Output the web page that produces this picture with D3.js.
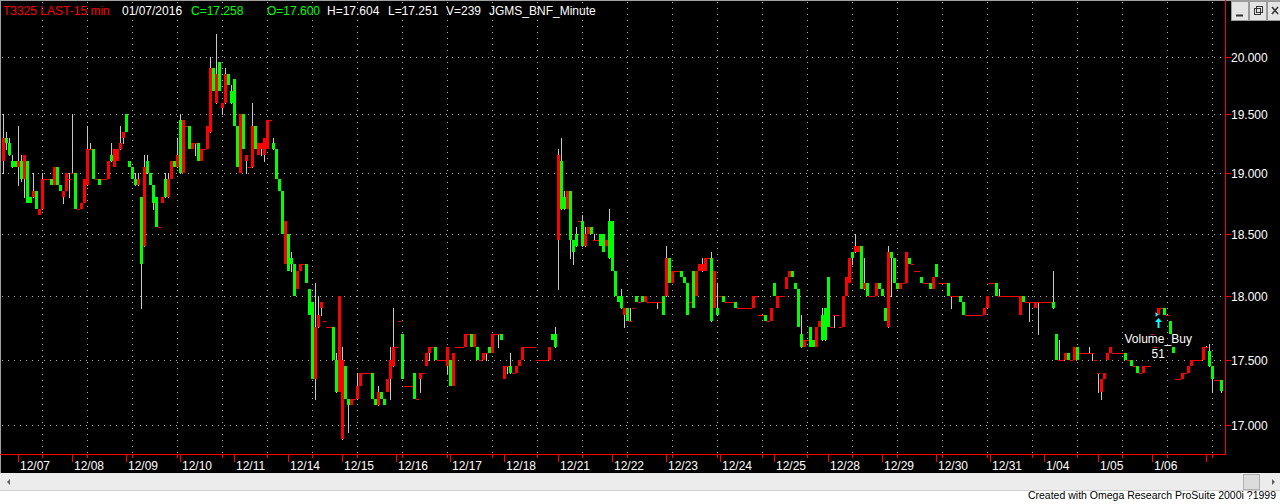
<!DOCTYPE html>
<html><head><meta charset="utf-8">
<script src="https://cdn.jsdelivr.net/npm/d3@7"></script>
<style>html,body{margin:0;padding:0;background:#fff;overflow:hidden}svg{display:block}</style>
</head><body><svg id="c" width="1280" height="504"></svg>
<script>
// ---------------- data ----------------
const opens = [
19.10,19.30,19.25,19.10,19.10,19.05,19.10,18.95,19.10,18.80,
18.80,18.85,18.65,18.70,18.95,18.95,18.95,18.90,19.05,18.90,
18.80,18.85,18.95,19.00,19.00,18.70,18.70,18.75,18.90,19.20,
19.20,18.95,18.95,18.95,18.95,18.95,19.15,19.05,19.10,19.20,
19.30,19.50,19.10,19.05,18.95,18.90,18.80,18.40,19.10,19.00,
18.90,18.80,18.55,18.75,18.95,18.80,18.95,19.10,19.05,19.45,
19.00,19.40,19.40,19.20,19.25,19.25,19.10,19.20,19.20,19.35,
19.90,19.60,19.95,19.55,19.60,19.85,19.70,19.80,19.40,19.00,
19.50,19.10,19.05,19.05,19.40,19.15,19.20,19.15,19.20,19.45,
19.25,19.20,18.95,18.85,18.25,18.50,18.30,18.25,18.05,18.20,
18.25,18.25,18.05,17.95,17.35,17.75,17.90,17.80,17.75,17.75,
17.75,17.50,17.25,16.90,17.45,17.20,17.15,17.20,17.20,17.30,
17.40,17.40,17.40,17.40,17.20,17.15,17.25,17.20,17.25,17.35,
17.45,17.60,17.80,17.70,17.30,17.30,17.30,17.40,17.20,17.35,
17.40,17.45,17.55,17.60,17.60,17.50,17.50,17.50,17.45,17.50,
17.30,17.60,17.60,17.60,17.60,17.70,17.70,17.60,17.60,17.50,
17.50,17.55,17.60,17.55,17.70,17.70,17.70,17.35,17.45,17.45,
17.40,17.40,17.45,17.50,17.60,17.60,17.60,17.60,17.50,17.50,
17.50,17.50,17.50,17.70,17.70,18.45,19.10,18.80,18.70,18.85,
18.45,18.50,18.60,18.60,18.40,18.50,18.55,18.45,18.45,18.50,
18.50,18.40,18.60,18.60,18.20,18.00,18.00,17.85,17.90,17.80,
17.90,18.00,17.95,18.00,17.95,17.95,17.95,17.95,17.95,17.95,
18.00,18.00,18.30,18.10,18.20,18.20,18.20,18.15,18.10,17.95,
18.20,18.00,18.20,18.20,18.20,18.30,18.30,17.90,17.90,18.00,
18.00,17.95,17.95,17.95,17.95,17.90,17.90,17.90,17.90,17.90,
17.90,18.00,17.85,17.85,17.85,17.80,17.80,18.10,17.90,18.00,
18.00,18.05,18.15,18.20,18.10,18.05,17.70,17.60,17.65,17.75,
17.65,17.60,17.75,17.85,17.90,18.15,17.75,17.85,17.85,17.75,
17.75,18.00,18.10,18.35,18.35,18.35,18.40,18.05,18.10,18.00,
18.00,18.00,18.10,18.05,17.90,17.75,18.35,18.30,18.10,18.05,
18.10,18.10,18.30,18.25,18.20,18.20,18.15,18.10,18.10,18.10,
18.05,18.25,18.10,18.10,18.10,18.10,18.00,18.00,18.00,18.00,
17.95,17.85,17.85,17.85,17.85,17.85,17.85,17.85,17.90,18.10,
18.10,18.10,18.00,18.00,18.00,18.00,18.00,18.00,18.00,17.85,
18.00,17.95,17.95,17.95,17.90,17.95,17.95,17.95,17.95,17.95,
17.95,17.70,17.50,17.50,17.50,17.55,17.50,17.50,17.60,17.55,
17.55,17.55,17.55,17.55,17.50,17.40,17.25,17.35,17.50,17.55,
17.55,17.55,17.55,17.55,17.55,17.50,17.50,17.45,17.45,17.40,
17.40,17.45,17.45,17.70,17.60,17.85,17.90,17.90,17.85,17.80,
17.60,17.35,17.35,17.35,17.40,17.40,17.45,17.50,17.50,17.50,
17.50,17.60,17.57,17.45,17.34,17.34,17.34];

const closes = [
19.30,19.25,19.15,19.05,19.05,19.10,18.95,19.15,18.75,18.75,
18.85,18.70,18.70,18.95,18.95,18.95,18.90,19.05,18.90,18.85,
18.85,19.00,18.95,19.00,18.70,18.70,18.75,18.95,19.20,19.20,
18.95,18.95,18.90,18.95,18.95,19.10,19.10,19.20,19.20,19.25,
19.35,19.35,19.05,18.95,18.90,18.95,18.25,19.05,19.00,18.90,
18.75,18.55,18.55,18.80,18.80,18.95,19.10,19.05,19.15,19.00,
19.45,19.40,19.20,19.25,19.25,19.10,19.20,19.20,19.40,19.90,
19.70,19.85,19.70,19.60,19.85,19.75,19.60,19.40,19.05,19.50,
19.20,19.15,19.05,19.40,19.20,19.25,19.25,19.30,19.45,19.45,
19.20,18.95,18.85,18.50,18.60,18.20,18.25,18.00,18.20,18.25,
18.25,18.10,17.85,17.35,17.75,17.85,17.95,17.80,17.75,17.75,
17.50,17.25,18.00,17.50,17.20,17.15,17.20,17.20,17.30,17.40,
17.40,17.40,17.40,17.20,17.15,17.25,17.20,17.15,17.35,17.50,
17.60,17.60,17.80,17.35,17.30,17.30,17.30,17.20,17.20,17.40,
17.40,17.55,17.60,17.60,17.50,17.50,17.50,17.50,17.60,17.30,
17.55,17.60,17.60,17.60,17.70,17.70,17.60,17.70,17.50,17.50,
17.55,17.55,17.55,17.70,17.70,17.70,17.65,17.45,17.45,17.40,
17.40,17.45,17.50,17.60,17.60,17.60,17.60,17.60,17.50,17.50,
17.50,17.50,17.60,17.65,17.60,19.15,18.70,18.70,18.85,18.45,
18.35,18.40,18.60,18.40,18.50,18.55,18.50,18.45,18.45,18.40,
18.35,18.45,18.30,18.20,18.00,17.95,17.90,17.90,17.80,17.80,
17.90,17.95,17.95,17.95,18.00,17.95,17.95,17.95,17.95,17.95,
17.85,18.30,18.10,18.20,18.20,18.20,18.15,18.10,17.85,17.95,
17.90,18.20,18.25,18.25,18.30,18.30,17.80,18.20,17.85,18.00,
17.95,17.95,17.95,17.95,17.90,17.90,17.90,17.90,17.90,17.90,
18.00,18.00,17.85,17.85,17.80,17.80,17.90,18.00,18.00,18.00,
18.00,18.15,18.20,18.15,18.05,17.75,17.60,17.65,17.65,17.60,
17.60,17.75,17.80,17.65,17.65,17.75,17.75,17.85,17.85,17.75,
18.00,18.15,18.30,18.30,18.40,18.40,18.05,18.10,18.00,18.00,
18.00,18.10,18.05,18.00,17.80,18.35,18.30,18.10,18.05,18.10,
18.10,18.35,18.25,18.25,18.20,18.20,18.10,18.10,18.10,18.05,
18.15,18.15,18.10,18.10,18.10,18.00,18.00,18.00,18.00,17.95,
17.85,17.85,17.85,17.85,17.85,17.85,17.85,17.90,18.00,18.10,
18.10,18.00,18.00,18.00,18.00,18.00,18.00,18.00,18.00,18.00,
17.95,17.95,17.95,17.95,17.95,17.95,17.95,17.95,17.95,17.95,
17.90,17.50,17.50,17.50,17.55,17.50,17.50,17.60,17.50,17.55,
17.55,17.55,17.55,17.55,17.50,17.40,17.35,17.40,17.55,17.60,
17.55,17.55,17.55,17.55,17.50,17.50,17.45,17.45,17.40,17.40,
17.45,17.45,17.45,17.70,17.60,17.90,17.90,17.85,17.85,17.70,
17.55,17.35,17.35,17.40,17.40,17.45,17.50,17.50,17.50,17.50,
17.60,17.60,17.45,17.35,17.34,17.34,17.26];

// [bar, high, low] where the range reaches beyond the body
const wicks = [
[0,19.50,19.00],[1,19.35,19.20],[2,19.30,null],[3,19.15,null],[5,19.40,18.90],[6,19.15,18.93],
[7,null,18.80],[10,19.00,null],[13,19.00,null],[20,null,18.75],[22,19.00,18.80],[23,19.50,null],
[28,19.40,null],[29,19.25,null],[36,19.25,null],[39,19.40,null],[40,null,19.25],[44,19.00,null],
[45,19.00,null],[46,null,17.90],[47,19.15,null],[48,19.15,null],[50,null,18.70],[54,19.00,null],
[55,19.00,null],[58,19.30,null],[59,19.50,null],[64,null,19.15],[69,20.00,null],[71,20.20,null],
[73,null,19.50],[74,19.90,null],[76,19.75,null],[81,null,19.00],[83,19.60,null],[86,null,19.15],
[87,null,19.10],[90,19.30,null],[96,18.35,18.20],[104,18.10,17.20],[105,18.00,null],[106,null,17.85],
[111,17.55,null],[113,17.60,null],[115,null,16.95],[118,17.40,null],[125,17.30,null],[129,17.60,17.20],
[130,17.90,null],[139,null,17.25],[142,null,17.50],[148,null,17.40],[161,null,17.50],[165,null,17.60],
[168,null,17.40],[169,17.55,null],[184,17.75,null],[185,19.20,18.05],[186,19.30,null],[187,18.85,null],
[189,null,18.30],[190,null,18.25],[191,18.55,null],[193,18.65,null],[194,18.55,null],[197,18.50,null],
[202,18.70,null],[206,18.05,null],[207,null,17.75],[209,17.90,null],[218,null,17.90],[221,18.40,null],
[233,18.30,null],[236,18.35,null],[238,18.10,null],[266,17.85,null],[273,17.90,null],[274,17.90,null],
[277,null,17.75],[283,null,18.25],[284,18.50,null],[287,18.30,null],[295,18.40,null],[296,null,18.00],
[316,null,17.90],[332,18.05,null],[342,null,17.80],[345,null,17.70],[350,18.20,null],[352,17.65,null],
[362,17.60,null],[363,null,17.50],[365,null,17.25],[366,null,17.20],[401,17.604,null],[402,17.62,null],
[403,null,17.25],[406,null,17.251]];

const dateLabels = ["12/07","12/08","12/09","12/10","12/11","12/14","12/15","12/16","12/17","12/18",
  "12/21","12/22","12/23","12/24","12/25","12/28","12/29","12/30","12/31","1/04","1/05","1/06",""];
const dateBars = [5,23,41,59,77,95,113,131,149,167,185,203,221,239,257,275,293,311,329,347,365,383,401];
const gridBars = [13,28,43,58,73,88,103,118,133,148,163,178,193,208,223,238,253,268,283,298,313,328,343,358,373,388,403];
const priceTicks = [17.0,17.5,18.0,18.5,19.0,19.5,20.0];

const headerTexts = ["T3325 LAST-15 min","01/07/2016","C=17.258","O=17.600","H=17.604","L=17.251","V=239","JGMS_BNF_Minute"];
const headerColors = ["#ff0000","#ffffff","#00ff00","#00ff00","#ffffff","#ffffff","#ffffff","#ffffff"];
const headerX = [3,122,191,267,327,388,446,489];

const signalBar = 385, signalPrice = 17.83, signalName = "Volume_Buy", signalValue = "51";

// ---------------- drawing ----------------
const W = 1280, H = 504;
const plotRight = 1225, axisY = 454;
const svg = d3.select("#c");
const FONT = "Arial, 'Liberation Sans', sans-serif";

const x = d3.scaleLinear().domain([0, 407]).range([2, 2 + 3 * 407]);
const y = d3.scaleLog().domain([17, 20]).range([425.3, 56.7]);
const bw = x(1) - x(0);

svg.append("rect").attr("width", W).attr("height", H).attr("fill", "#ffffff");
svg.append("rect").attr("x", 0).attr("y", 0).attr("width", W).attr("height", 473).attr("fill", "#000000");

// frame lines
svg.append("line").attr("x1", 0).attr("x2", W).attr("y1", 0.5).attr("y2", 0.5).attr("stroke", "#a0a0a0");
svg.append("line").attr("x1", 0.5).attr("x2", 0.5).attr("y1", 0).attr("y2", 473).attr("stroke", "#a0a0a0");

const gridG = svg.append("g");
// horizontal grid
gridG.selectAll("line.h").data(priceTicks).join("line")
  .attr("x1", 2).attr("x2", plotRight)
  .attr("y1", d => Math.round(y(d)) + 0.5).attr("y2", d => Math.round(y(d)) + 0.5)
  .attr("stroke", "#b4b4b4").attr("stroke-dasharray", "1,5");
// vertical grid
gridG.selectAll("line.v").data(gridBars).join("line")
  .attr("x1", d => Math.floor(x(d) + bw / 2) + 0.5).attr("x2", d => Math.floor(x(d) + bw / 2) + 0.5)
  .attr("y1", 2).attr("y2", axisY)
  .attr("stroke", "#b4b4b4").attr("stroke-dasharray", "1,5");

// bars
const bars = d3.range(opens.length).map(i => ({i, o: opens[i], c: closes[i]}));
const wickMap = new Map(wicks.map(w => [w[0], w]));
const barG = svg.append("g");
barG.selectAll("line.w").data(bars.filter(b => wickMap.has(b.i))).join("line")
  .attr("x1", b => Math.floor(x(b.i) + bw / 2) + 0.5).attr("x2", b => Math.floor(x(b.i) + bw / 2) + 0.5)
  .attr("y1", b => { const w = wickMap.get(b.i); return Math.round(y(w[1] != null ? Math.max(w[1], b.o, b.c) : Math.max(b.o, b.c))); })
  .attr("y2", b => { const w = wickMap.get(b.i); return Math.round(y(w[2] != null ? Math.min(w[2], b.o, b.c) : Math.min(b.o, b.c))) + 1; })
  .attr("stroke", "#c8c8c8").attr("stroke-width", 1);
barG.selectAll("rect").data(bars).join("rect")
  .attr("x", b => Math.round(x(b.i))).attr("width", bw)
  .attr("y", b => Math.round(y(Math.max(b.o, b.c))))
  .attr("height", b => Math.max(1, Math.round(y(Math.min(b.o, b.c))) - Math.round(y(Math.max(b.o, b.c)))))
  .attr("fill", b => b.c < b.o ? "#00ff00" : "#ff0000");

// axes lines
svg.append("line").attr("x1", plotRight + 0.5).attr("x2", plotRight + 0.5).attr("y1", 0).attr("y2", axisY + 1).attr("stroke", "#ff0000");
svg.append("line").attr("x1", 0).attr("x2", plotRight + 1).attr("y1", axisY + 0.5).attr("y2", axisY + 0.5).attr("stroke", "#ff0000");

// price axis
const pa = svg.append("g");
pa.selectAll("line").data(priceTicks).join("line")
  .attr("x1", plotRight).attr("x2", plotRight + 6)
  .attr("y1", d => Math.round(y(d)) + 0.5).attr("y2", d => Math.round(y(d)) + 0.5)
  .attr("stroke", "#ff0000");
pa.selectAll("text").data(priceTicks).join("text")
  .attr("x", plotRight + 6).attr("y", d => Math.round(y(d)) + 4.5)
  .attr("fill", "#ffffff").attr("font-family", FONT).attr("font-size", 12)
  .text(d => d3.format(".3f")(d));

// date axis
const da = svg.append("g");
da.selectAll("line.d").data(dateBars).join("line")
  .attr("x1", d => Math.floor(x(d) + bw / 2) + 0.5).attr("x2", d => Math.floor(x(d) + bw / 2) + 0.5)
  .attr("y1", axisY).attr("y2", axisY + 8).attr("stroke", "#ff0000");
da.selectAll("line.g").data(gridBars).join("line")
  .attr("x1", d => Math.floor(x(d) + bw / 2) + 0.5).attr("x2", d => Math.floor(x(d) + bw / 2) + 0.5)
  .attr("y1", axisY).attr("y2", axisY + 4).attr("stroke", "#ff0000");
da.selectAll("text").data(dateBars).join("text")
  .attr("x", d => Math.floor(x(d) + bw / 2) + 2).attr("y", 470)
  .attr("fill", "#ffffff").attr("font-family", FONT).attr("font-size", 12)
  .text((d, i) => dateLabels[i]);

// header
svg.append("g").selectAll("text").data(headerTexts).join("text")
  .attr("x", (d, i) => headerX[i]).attr("y", 15)
  .attr("fill", (d, i) => headerColors[i]).attr("font-family", FONT).attr("font-size", 12)
  .text(d => d);

// signal annotation
const sx = Math.floor(x(signalBar) + bw / 2) + 0.5;
const sy = Math.round(y(signalPrice));
svg.append("path").attr("d", `M${sx - 3},${sy - 5} L${sx - 3},${sy} L${sx},${sy - 2.5} Z`).attr("fill", "#00ffff");
svg.append("path").attr("d", `M${sx},${sy + 1} L${sx + 3.5},${sy + 5} L${sx + 1},${sy + 5} L${sx + 1},${sy + 11} L${sx - 1},${sy + 11} L${sx - 1},${sy + 5} L${sx - 3.5},${sy + 5} Z`).attr("fill", "#00ffff");
svg.append("text").attr("x", sx - 34).attr("y", sy + 26).attr("fill", "#ffffff")
  .attr("font-family", FONT).attr("font-size", 12).text(signalName);
svg.append("text").attr("x", sx - 7).attr("y", sy + 41).attr("fill", "#ffffff")
  .attr("font-family", FONT).attr("font-size", 12).text(signalValue);

// window buttons
const btnX = [1231, 1249, 1267];
btnX.forEach((bx, k) => {
  svg.append("rect").attr("x", bx + 0.5).attr("y", 1.5).attr("width", 17).attr("height", 19)
    .attr("fill", "#e4e4e4").attr("stroke", "#9a9a9a");
});
svg.append("line").attr("x1", 1236).attr("x2", 1243).attr("y1", 15.5).attr("y2", 15.5).attr("stroke", "#333").attr("stroke-width", 2);
svg.append("rect").attr("x", 1254.5).attr("y", 8.5).attr("width", 6).attr("height", 6).attr("fill", "none").attr("stroke", "#333");
svg.append("rect").attr("x", 1256.5).attr("y", 6.5).attr("width", 6).attr("height", 6).attr("fill", "none").attr("stroke", "#333");
svg.append("path").attr("d", "M1272,7 L1278,14 M1278,7 L1272,14").attr("stroke", "#333").attr("stroke-width", 1.5);

// scrollbar
svg.append("rect").attr("x", 0).attr("y", 473).attr("width", W).attr("height", 18).attr("fill", "#ececec");
svg.append("line").attr("x1", 0).attr("x2", W).attr("y1", 490.5).attr("y2", 490.5).attr("stroke", "#d0d0d0");
svg.append("path").attr("d", "M7,482 L10,479 L10,485 Z").attr("fill", "#606060");
svg.append("path").attr("d", "M1275,482 L1272,479 L1272,485 Z").attr("fill", "#606060");
svg.append("rect").attr("x", 1243.5).attr("y", 474.5).attr("width", 16).attr("height", 15).attr("fill", "#dcdcdc").attr("stroke", "#b0b0b0");

svg.append("text").attr("x", 1276).attr("y", 499).attr("text-anchor", "end").attr("fill", "#000")
  .attr("font-family", FONT).attr("font-size", 10.5)
  .text("Created with Omega Research ProSuite 2000i ?1999");
</script></body></html>
